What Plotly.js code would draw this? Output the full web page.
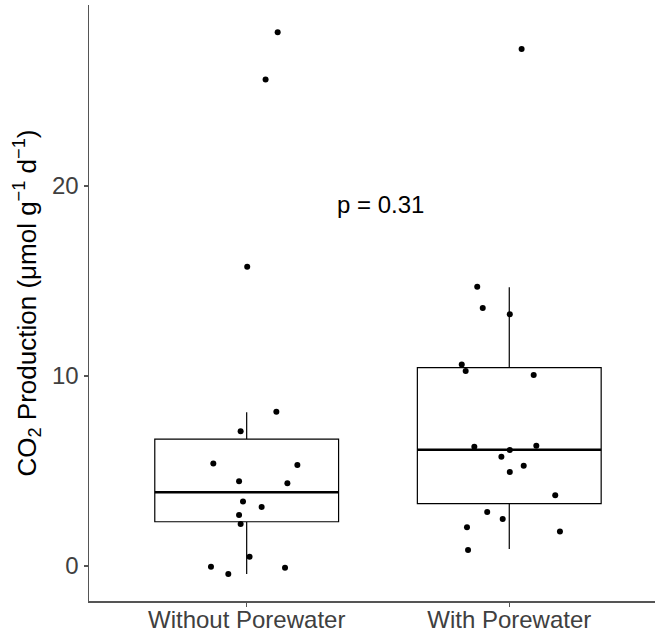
<!DOCTYPE html>
<html>
<head>
<meta charset="utf-8">
<script src="https://cdn.plot.ly/plotly-3.0.1.min.js"></script>
<style>html,body{margin:0;padding:0;background:#fff;}</style>
</head>
<body>
<div id="chart" style="width:657px;height:634px;"></div>
<script>
// ---- data ----
const categories = ["Without Porewater", "With Porewater"];

// box statistics (lower whisker, Q1, median, Q3, upper whisker)
const lowerWhisker = [-0.42, 0.89];
const q1Values     = [2.33, 3.28];
const medianValues = [3.88, 6.12];
const q3Values     = [6.68, 10.44];
const upperWhisker = [8.09, 14.67];

// observations per group with their horizontal jitter (fraction of category step)
const withoutValues = [28.09, 25.61, 15.75, 8.12, 7.09, 5.40, 5.32, 4.46, 4.35, 3.40, 3.11, 2.68, 2.21, 0.49, -0.04, -0.42, -0.09];
const withoutJitter = [0.118, 0.072, 0.002, 0.113, -0.023, -0.127, 0.193, -0.029, 0.155, -0.014, 0.057, -0.029, -0.023, 0.011, -0.136, -0.070, 0.146];
const withValues = [27.21, 14.70, 13.58, 13.25, 10.61, 10.26, 10.05, 6.28, 6.33, 6.11, 5.75, 5.28, 4.95, 3.72, 2.84, 2.47, 2.04, 1.81, 0.84];
const withJitter = [0.047, -0.122, -0.101, 0.002, -0.181, -0.166, 0.093, -0.133, 0.103, 0.002, -0.030, 0.055, 0.002, 0.175, -0.084, -0.025, -0.161, 0.193, -0.157];

const pValueLabel = "p = 0.31";
const pValueY = 19.05;

// ---- build chart ----
const catIdx = categories.map((c, i) => i);
const FONT = "Liberation Sans, Arial, Helvetica, sans-serif";
const BOXW = 0.7;

const boxTrace = {
  type: "box",
  x: catIdx,
  q1: q1Values,
  median: medianValues,
  q3: q3Values,
  lowerfence: lowerWhisker,
  upperfence: upperWhisker,
  width: BOXW,
  boxpoints: false,
  fillcolor: "rgba(255,255,255,0)",
  line: {color: "#000", width: 1.2},
  whiskerwidth: 0,
  hoverinfo: "skip",
  showlegend: false
};

const groups = [[withoutValues, withoutJitter], [withValues, withJitter]];
const pointTraces = groups.map(([vals, jit], gi) => ({
  type: "scatter",
  mode: "markers",
  x: vals.map((v, k) => gi + jit[k]),
  y: vals,
  marker: {color: "#000", size: 6},
  hoverinfo: "y",
  showlegend: false
}));

const medianShapes = catIdx.map(i => ({
  type: "line", xref: "x", yref: "y",
  x0: i - BOXW / 2, x1: i + BOXW / 2,
  y0: medianValues[i], y1: medianValues[i],
  line: {color: "#000", width: 2.6}
}));

const layout = {
  width: 657, height: 634,
  margin: {l: 89, r: 2, t: 5, b: 33},
  paper_bgcolor: "#fff", plot_bgcolor: "#fff",
  font: {family: FONT, color: "#000"},
  showlegend: false,
  xaxis: {
    range: [-0.6005, 1.555],
    tickmode: "array", tickvals: catIdx, ticktext: categories,
    showgrid: false, zeroline: false,
    showline: true, linecolor: "#555", linewidth: 1.5,
    ticks: "outside", ticklen: 4, tickwidth: 1.2, tickcolor: "#555",
    ticklabelstandoff: -7,
    tickfont: {size: 24, color: "#404040", family: FONT}
  },
  yaxis: {
    range: [-1.842, 29.53],
    tickmode: "array", tickvals: [0, 10, 20],
    showgrid: false, zeroline: false,
    showline: true, linecolor: "#555", linewidth: 1.5,
    ticks: "outside", ticklen: 4, tickwidth: 1.2, tickcolor: "#555",
    tickfont: {size: 24, color: "#404040", family: FONT},
    title: {
      text: "CO<sub>2</sub> Production (μmol g<sup>−1</sup> d<sup>−1</sup>)",
      font: {size: 26, color: "#000", family: FONT},
      standoff: 8
    }
  },
  shapes: medianShapes,
  annotations: [{
    x: 0.51, y: pValueY, xref: "x", yref: "y",
    text: pValueLabel, showarrow: false,
    font: {size: 24, color: "#000", family: FONT},
    xanchor: "center", yanchor: "middle"
  }]
};

Plotly.newPlot("chart", [boxTrace, ...pointTraces], layout, {displayModeBar: false, staticPlot: true});
</script>
</body>
</html>
